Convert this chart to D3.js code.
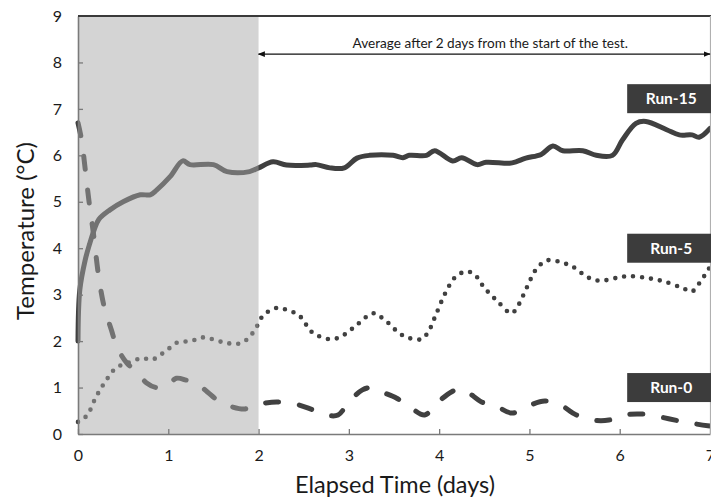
<!DOCTYPE html>
<html>
<head>
<meta charset="utf-8">
<script src="https://cdn.jsdelivr.net/npm/d3@7"></script>
<style>
  body { margin: 0; background: #fff; }
  svg { display: block; font-family: Lato, "Open Sans", sans-serif; }
</style>
</head>
<body>
<svg id="chart" width="711" height="500"></svg>
<script>
// data
var xTicks = [0, 1, 2, 3, 4, 5, 6, 7];
var yTicks = [0, 1, 2, 3, 4, 5, 6, 7, 8, 9];

var run15Days = [0, 0.02, 0.08, 0.13, 0.18, 0.23, 0.35, 0.5, 0.69, 0.8, 0.87, 1.02, 1.16, 1.24, 1.5, 1.65, 1.9, 2.0,
  2.16, 2.31, 2.57, 2.64, 2.79, 2.95, 3.09, 3.23, 3.49, 3.6, 3.67, 3.86, 3.95, 4.15, 4.25, 4.42, 4.52, 4.78, 4.85,
  4.96, 5.13, 5.26, 5.37, 5.59, 5.74, 5.92, 6.03, 6.18, 6.29, 6.52, 6.66, 6.8, 6.88, 7.0];
var run15Temp = [2.0, 3.1, 3.75, 4.1, 4.4, 4.62, 4.82, 5.0, 5.15, 5.15, 5.25, 5.54, 5.88, 5.8, 5.8, 5.65, 5.65, 5.73,
  5.86, 5.79, 5.79, 5.8, 5.73, 5.73, 5.94, 6.0, 6.0, 5.95, 6.0, 6.0, 6.1, 5.88, 5.95, 5.8, 5.85, 5.83, 5.86,
  5.94, 6.02, 6.2, 6.1, 6.1, 6.0, 6.0, 6.33, 6.69, 6.73, 6.55, 6.44, 6.44, 6.39, 6.58];

var run5Days = [0, 0.1, 0.2, 0.3, 0.42, 0.55, 0.71, 0.82, 0.91, 1.0, 1.1, 1.25, 1.39, 1.6, 1.77, 1.88, 1.97, 2.05,
  2.19, 2.3, 2.45, 2.6, 2.81, 2.95, 3.1, 3.27, 3.4, 3.6, 3.8, 3.88, 3.96, 4.07, 4.18, 4.3, 4.39, 4.5, 4.65, 4.8,
  4.87, 4.97, 5.08, 5.2, 5.38, 5.5, 5.64, 5.78, 5.96, 6.1, 6.3, 6.5, 6.7, 6.8, 6.9, 7.0];
var run5Temp = [0.26, 0.4, 0.8, 1.12, 1.42, 1.53, 1.63, 1.6, 1.7, 1.83, 1.97, 2.0, 2.08, 1.98, 1.94, 2.05, 2.28, 2.55,
  2.71, 2.68, 2.55, 2.18, 2.04, 2.14, 2.37, 2.6, 2.45, 2.12, 2.04, 2.2, 2.55, 3.04, 3.38, 3.5, 3.44, 3.15, 2.85, 2.6,
  2.75, 3.15, 3.56, 3.74, 3.68, 3.58, 3.38, 3.3, 3.36, 3.4, 3.36, 3.28, 3.14, 3.07, 3.3, 3.6];

var run0Days = [0, 0.04, 0.08, 0.12, 0.17, 0.23, 0.29, 0.37, 0.43, 0.54, 0.65, 0.76, 0.87, 0.98, 1.09, 1.2, 1.31,
  1.43, 1.57, 1.68, 1.85, 1.94, 2.05, 2.2, 2.38, 2.59, 2.75, 2.88, 3.0, 3.15, 3.26, 3.36, 3.53, 3.67, 3.84, 3.97,
  4.14, 4.22, 4.31, 4.47, 4.63, 4.81, 4.97, 5.17, 5.33, 5.52, 5.7, 5.88, 6.05, 6.25, 6.44, 6.66, 6.83, 7.0];
var run0Temp = [6.7, 6.33, 5.7, 5.04, 4.33, 3.38, 2.74, 2.24, 1.88, 1.53, 1.34, 1.1, 1.0, 1.03, 1.2, 1.16, 1.1,
  0.91, 0.69, 0.6, 0.54, 0.62, 0.66, 0.69, 0.66, 0.53, 0.41, 0.41, 0.69, 0.95, 1.0, 0.91, 0.77, 0.59, 0.41, 0.66,
  0.91, 0.97, 0.91, 0.69, 0.6, 0.45, 0.59, 0.71, 0.64, 0.41, 0.3, 0.3, 0.41, 0.43, 0.37, 0.28, 0.22, 0.17];

var runNames = ["Run-15", "Run-5", "Run-0"];
var labelDay = [6.57, 6.57, 6.57];
var labelTemp = [7.22, 4.0, 1.0];

var shadedSpan = [0, 2];
var arrowSpan = [2, 7];
var arrowTemp = 8.18;
var arrowText = "Average after 2 days from the start of the test.";

var width = 711, height = 500;
var mLeft = 78, mRight = 710, mTop = 16, mBottom = 434;

var svg = d3.select("#chart");

var x = d3.scaleLinear().domain([0, 7]).range([mLeft, mRight]);
var y = d3.scaleLinear().domain([0, 9]).range([mBottom, mTop]);

var defs = svg.append("defs");
["start", "end"].forEach(function(k) {
  defs.append("marker")
    .attr("id", "arrow-" + k)
    .attr("viewBox", "0 0 10 10")
    .attr("refX", 9).attr("refY", 5)
    .attr("markerWidth", 7).attr("markerHeight", 7)
    .attr("markerUnits", "userSpaceOnUse")
    .attr("orient", k == "end" ? "auto" : "auto-start-reverse")
    .append("path")
    .attr("d", "M0,1L10,5L0,9z")
    .attr("fill", "#111");
});

var line = d3.line()
  .x(function(d) { return x(d[0]); })
  .y(function(d) { return y(d[1]); })
  .curve(d3.curveCatmullRom.alpha(0.5));

function zip(a, b) { return a.map(function(v, i) { return [v, b[i]]; }); }

var series = [
  { pts: zip(run0Days, run0Temp), dash: "13,21", w: 5 },
  { pts: zip(run5Days, run5Temp), dash: "0,9", w: 4.6 },
  { pts: zip(run15Days, run15Temp), dash: null, w: 5 }
];

svg.selectAll("path.run")
  .data(series)
  .enter().append("path")
  .attr("class", "run")
  .attr("d", function(d) { return line(d.pts); })
  .attr("fill", "none")
  .attr("stroke", "#404040")
  .attr("stroke-width", function(d) { return d.w; })
  .attr("stroke-linecap", "round")
  .attr("stroke-linejoin", "round")
  .attr("stroke-dasharray", function(d) { return d.dash; });

// gray overlay for the first two days (drawn over the lines)
svg.append("rect")
  .attr("x", x(shadedSpan[0]))
  .attr("y", mTop)
  .attr("width", x(shadedSpan[1]) - x(shadedSpan[0]))
  .attr("height", mBottom - mTop)
  .attr("fill", "rgb(168,168,168)")
  .attr("fill-opacity", 0.49);

// axes
var xAxis = d3.axisBottom(x).tickValues(xTicks).tickFormat(d3.format("d"))
  .tickSizeInner(-5).tickSizeOuter(0).tickPadding(16);
var gx = svg.append("g").attr("transform", "translate(0," + mBottom + ")").call(xAxis);
var yAxis = d3.axisLeft(y).tickValues(yTicks).tickFormat(d3.format("d"))
  .tickSizeInner(-5).tickSizeOuter(0).tickPadding(16);
var gy = svg.append("g").attr("transform", "translate(" + mLeft + ",0)").call(yAxis);

[gx, gy].forEach(function(g) {
  g.select(".domain").attr("stroke", "#7a7a7a").attr("stroke-width", 1.6);
  g.selectAll(".tick line").attr("stroke", "#7a7a7a").attr("stroke-width", 1.3);
  g.selectAll(".tick text").attr("fill", "#1a1a1a").style("font-size", "16px").style("font-family", "Lato, sans-serif");
});
gy.selectAll(".tick").filter(function(d) { return d == 9; }).select("line").remove();

// frame top and right
svg.append("line")
  .attr("x1", mLeft).attr("x2", width).attr("y1", mTop).attr("y2", mTop)
  .attr("stroke", "#3a3a3a").attr("stroke-width", 2);
svg.append("line")
  .attr("x1", mRight + 0.5).attr("x2", mRight + 0.5).attr("y1", mTop).attr("y2", mBottom)
  .attr("stroke", "#b0b0b0").attr("stroke-width", 1.2);

// axis titles
svg.append("text")
  .attr("x", 395).attr("y", 493)
  .attr("text-anchor", "middle")
  .attr("fill", "#1a1a1a")
  .style("font-size", "23.5px")
  .text("Elapsed Time (days)");

svg.append("text")
  .attr("transform", "translate(34,231) rotate(-90)")
  .attr("text-anchor", "middle")
  .attr("fill", "#1a1a1a")
  .style("font-size", "24px")
  .text("Temperature (°C)");

// annotation arrow
svg.append("line")
  .attr("x1", x(arrowSpan[0])).attr("x2", x(arrowSpan[1]))
  .attr("y1", y(arrowTemp)).attr("y2", y(arrowTemp))
  .attr("stroke", "#111").attr("stroke-width", 1.2)
  .attr("marker-start", "url(#arrow-start)")
  .attr("marker-end", "url(#arrow-end)");

svg.append("text")
  .attr("x", (x(arrowSpan[0]) + x(arrowSpan[1])) / 2 + 6)
  .attr("y", y(arrowTemp) - 6)
  .attr("text-anchor", "middle")
  .attr("fill", "#1a1a1a")
  .style("font-size", "13.6px")
  .text(arrowText);

// run labels
var lab = svg.selectAll("g.lab")
  .data(runNames)
  .enter().append("g")
  .attr("class", "lab")
  .attr("transform", function(d, i) { return "translate(" + x(labelDay[i]) + "," + y(labelTemp[i]) + ")"; });

lab.append("rect")
  .attr("x", -44).attr("y", -14.5)
  .attr("width", 88).attr("height", 29)
  .attr("fill", "#3c3c3c");

lab.append("text")
  .attr("text-anchor", "middle")
  .attr("dy", "0.36em")
  .attr("fill", "#fff")
  .style("font-size", "15.5px")
  .style("font-weight", "bold")
  .text(function(d) { return d; });
</script>
</body>
</html>
